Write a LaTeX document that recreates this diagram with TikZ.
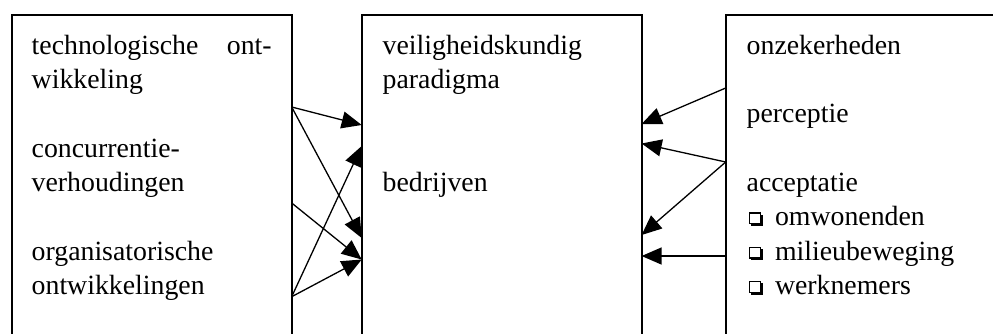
\documentclass[tikz,border=0pt]{standalone}
\usepackage{fontspec}
\setmainfont{Liberation Serif}
\usetikzlibrary{arrows.meta}

\tikzset{
  panel/.style={draw, line width=1.7pt, rectangle, inner sep=0pt, outer sep=0pt,
                anchor=north west, minimum height=340pt},
  txt/.style={anchor=base west, inner sep=0pt, outer sep=0pt,
              font=\fontsize{27.8pt}{34.3pt}\selectfont},
  link/.style={line width=1.3pt, -{Triangle[length=20pt,width=17pt]}},
  boxframe/.style={line width=1.1pt},
  boxshadow/.style={line width=2.4pt}
}

% shadowed check box, drawn with its baseline at y
\newcommand{\shadowbox}[2]{%
  \draw[boxframe] (#1+2.5,#2-12.6) rectangle (#1+13.4,#2-2.0);
  \draw[boxshadow] (#1+4.0,#2-0.8) -- (#1+14.7,#2-0.8) -- (#1+14.7,#2-11.0);
}

\begin{document}
\begin{tikzpicture}[x=1pt,y=-1pt]
  \useasboundingbox (0,0) rectangle (993,333);
  \clip (0,0) rectangle (993,333);

  % three panels, open at the bottom of the page
  \node[panel, minimum width=280pt] (left)  at (11.7,15) {};
  \node[panel, minimum width=280pt] (mid)   at (361.7,15) {};
  \node[panel, minimum width=300pt] (right) at (725.7,15) {};

  % left panel text
  \node[txt] (t1) at (31.7,54)    {\makebox[240pt][s]{technologische ont-}};
  \node[txt] (t2) at (31.7,88.3)  {wikkeling};
  \node[txt] (t3) at (31.7,157)   {concurrentie-};
  \node[txt] (t4) at (31.7,191.3) {verhoudingen};
  \node[txt] (t5) at (31.7,260)   {organisatorische};
  \node[txt] (t6) at (31.7,294.3) {ontwikkelingen};

  % middle panel text
  \node[txt] (m1) at (382.7,54)    {veiligheidskundig};
  \node[txt] (m2) at (382.7,88.3)  {paradigma};
  \node[txt] (m3) at (382.7,191.3) {bedrijven};

  % right panel text
  \node[txt] (r1) at (746.7,54)    {onzekerheden};
  \node[txt] (r2) at (746.7,122.6) {perceptie};
  \node[txt] (r3) at (746.7,191.3) {acceptatie};
  \shadowbox{746.7}{225.6}
  \node[txt] (r4) at (775,225.6) {omwonenden};
  \shadowbox{746.7}{260}
  \node[txt] (r5) at (775,260)   {milieubeweging};
  \shadowbox{746.7}{294.3}
  \node[txt] (r6) at (775,294.3) {werknemers};

  % connector end points on the panel edges
  \coordinate (la) at (291.7,107);
  \coordinate (lb) at (291.7,203);
  \coordinate (lc) at (291.7,296.7);
  \coordinate (ma) at (361.7,125);
  \coordinate (mb) at (361.7,146);
  \coordinate (mc) at (361.7,238);
  \coordinate (md) at (361.7,259.5);
  \coordinate (na) at (641.6,124);
  \coordinate (nb) at (641.6,143.5);
  \coordinate (nc) at (641.6,235);
  \coordinate (nd) at (641.6,256);
  \coordinate (ra) at (725.7,88);
  \coordinate (rb) at (725.7,162);
  \coordinate (rc) at (725.7,256);

  % left to middle
  \draw[link] (la) -- (ma);
  \draw[link] (la) -- (mc);
  \draw[link] (lb) -- (md);
  \draw[link] (lc) -- (mb);
  \draw[link] (lc) -- (md);

  % right to middle
  \draw[link] (ra) -- (na);
  \draw[link] (rb) -- (nb);
  \draw[link] (rb) -- (nc);
  \draw[link] (rc) -- (nd);
\end{tikzpicture}
\end{document}
